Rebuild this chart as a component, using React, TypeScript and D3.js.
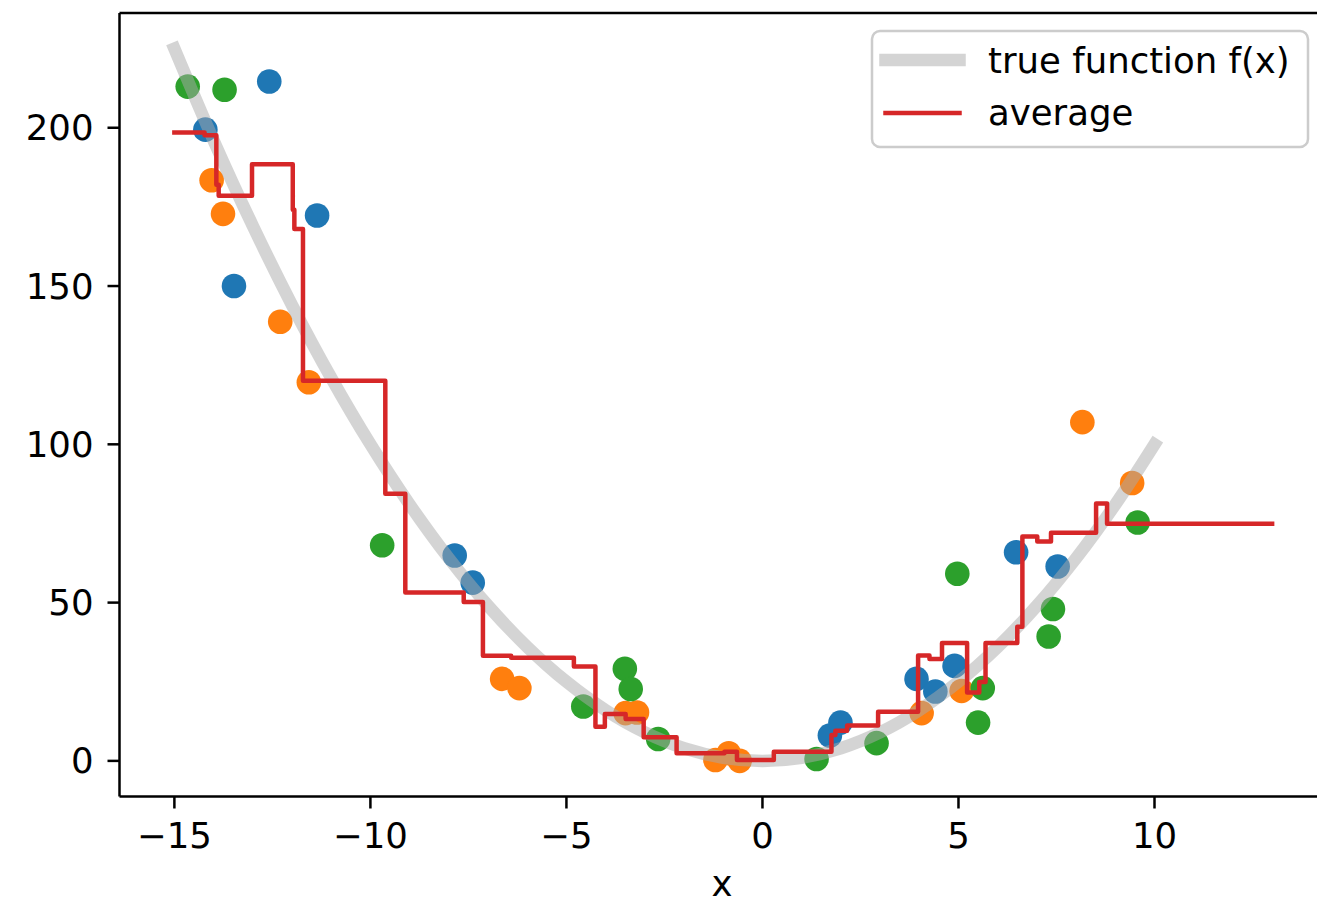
import React from 'react';
import * as d3 from 'd3';

// true function f(x) read at integer x
const trueX = [-15, -14, -13, -12, -11, -10, -9, -8, -7, -6, -5, -4, -3, -2, -1, 0, 1, 2, 3, 4, 5, 6, 7, 8, 9, 10];
const trueY = [225, 196, 169, 144, 121, 100, 81, 64, 49, 36, 25, 16, 9, 4, 1, 0, 1, 4, 9, 16, 25, 36, 49, 64, 81, 100];

// three noisy samples
const blueX = [-14.21, -12.58, -13.48, -11.36, -7.85, -7.39, 1.72, 1.99, 3.93, 4.41, 4.9, 6.47, 7.53];
const blueY = [199.4, 214.6, 150.0, 172.3, 64.9, 56.3, 8.0, 12.1, 25.9, 21.9, 30.0, 65.9, 61.4];
const orangeX = [-14.05, -13.76, -12.3, -11.57, -6.64, -6.2, -3.49, -3.2, -1.2, -0.86, -0.58, 4.06, 5.08, 8.16, 9.43];
const orangeY = [183.4, 172.8, 138.7, 119.6, 25.9, 23.0, 15.1, 15.3, 0.3, 2.4, 0.0, 15.1, 22.1, 107.0, 87.8];
const greenX = [-14.66, -13.72, -9.7, -4.57, -3.51, -3.36, -2.66, 1.38, 2.91, 4.97, 5.5, 5.62, 7.3, 7.41, 9.57];
const greenY = [213.0, 212.0, 68.1, 17.2, 29.1, 22.7, 6.9, 0.6, 5.6, 59.1, 12.1, 23.0, 39.3, 48.0, 75.3];

// average prediction, step starts
const avgX = [-15, -14.23, -13.93, -13.87, -13.02, -11.98, -11.94, -11.72, -9.62, -9.11, -7.62, -7.13, -6.41,
  -4.81, -4.26, -4.02, -3.49, -3.03, -2.19, -0.97, -0.65, 0.29, 1.76, 1.86, 2.16, 2.95, 3.97, 4.26, 4.58,
  5.22, 5.53, 5.69, 6.5, 6.63, 7.01, 7.36, 8.51, 8.79, 13];
const avgY = [198.5, 197.6, 182, 178.5, 188.5, 174.1, 168.0, 120.1, 84.4, 53.2, 50.2, 33.2, 32.6,
  29.8, 10.8, 14.85, 13.2, 7.5, 2.4, 2.9, 0.3, 2.9, 8.2, 9.5, 11.2, 15.5, 33.3, 32.2, 37.2,
  21.6, 24.9, 37.2, 42.4, 70.9, 69.3, 72.1, 81.3, 74.9, 74.9];

const xTicks = [-15, -10, -5, 0, 5, 10];
const yTicks = [0, 50, 100, 150, 200];

const W = 1317, H = 905;
const left = 119.5, right = 1327, top = 13, bottom = 796.5;
const font = 'DejaVu Sans, sans-serif';
const fs = 35.5;

export default function App() {
  const x = d3.scaleLinear().domain([-16.4, 14.4]).range([left, right]);
  const y = d3.scaleLinear().domain([-11.25, 236.25]).range([bottom, top]);

  const trueLine = d3.line<number>().x(d => x(d)).y((d, i) => y(trueY[i])).curve(d3.curveCatmullRom);
  const avgLine = d3.line<number>().x(d => x(d)).y((d, i) => y(avgY[i])).curve(d3.curveStepAfter);

  const fmt = (v: number) => (v < 0 ? '\u2212' + Math.abs(v) : String(v));

  const dots = (xs: number[], ys: number[], color: string) =>
    xs.map((v, i) => <circle key={color + i} cx={x(v)} cy={y(ys[i])} r={12.3} fill={color} />);

  return (
    <svg width={W} height={H} style={{ position: 'absolute', left: 0, top: 0, background: '#fff' }}>
      <defs>
        <clipPath id="plot">
          <rect x={left} y={top} width={right - left} height={bottom - top} />
        </clipPath>
      </defs>
      <g clipPath="url(#plot)">
        {dots(blueX, blueY, '#1f77b4')}
        {dots(orangeX, orangeY, '#ff7f0e')}
        {dots(greenX, greenY, '#2ca02c')}
        <path d={trueLine(trueX) || ''} fill="none" stroke="#a9a9a9" strokeOpacity={0.5}
          strokeWidth={12.5} strokeLinecap="square" />
        <path d={avgLine(avgX) || ''} fill="none" stroke="#d62728" strokeWidth={4.5}
          strokeLinecap="square" strokeLinejoin="round" />
      </g>

      {/* spines */}
      <line x1={left} x2={left} y1={top} y2={bottom} stroke="#000" strokeWidth={2.5} />
      <line x1={left} x2={W + 5} y1={bottom} y2={bottom} stroke="#000" strokeWidth={2.5} />
      <line x1={left} x2={W + 5} y1={top} y2={top} stroke="#000" strokeWidth={2.5} />

      {xTicks.map(t => (
        <g key={'x' + t}>
          <line x1={x(t)} x2={x(t)} y1={bottom} y2={bottom + 12} stroke="#000" strokeWidth={2.5} />
          <text x={x(t)} y={bottom + 51} textAnchor="middle" fontFamily={font} fontSize={fs}>{fmt(t)}</text>
        </g>
      ))}
      {yTicks.map(t => (
        <g key={'y' + t}>
          <line x1={left - 12} x2={left} y1={y(t)} y2={y(t)} stroke="#000" strokeWidth={2.5} />
          <text x={left - 26} y={y(t) + 12.5} textAnchor="end" fontFamily={font} fontSize={fs}>{fmt(t)}</text>
        </g>
      ))}
      <text x={722} y={896} textAnchor="middle" fontFamily={font} fontSize={fs}>x</text>

      {/* legend */}
      <rect x={872} y={31} width={436} height={116} rx={8} fill="#fff" fillOpacity={0.8}
        stroke="#cccccc" strokeWidth={2.5} />
      <line x1={885.5} x2={959.5} y1={60} y2={60} stroke="#a9a9a9" strokeOpacity={0.5}
        strokeWidth={12.5} strokeLinecap="square" />
      <text x={988} y={73} fontFamily={font} fontSize={fs}>true function f(x)</text>
      <line x1={885.5} x2={959.5} y1={113} y2={113} stroke="#d62728" strokeWidth={4.5} strokeLinecap="square" />
      <text x={988} y={125} fontFamily={font} fontSize={fs}>average</text>
    </svg>
  );
}
